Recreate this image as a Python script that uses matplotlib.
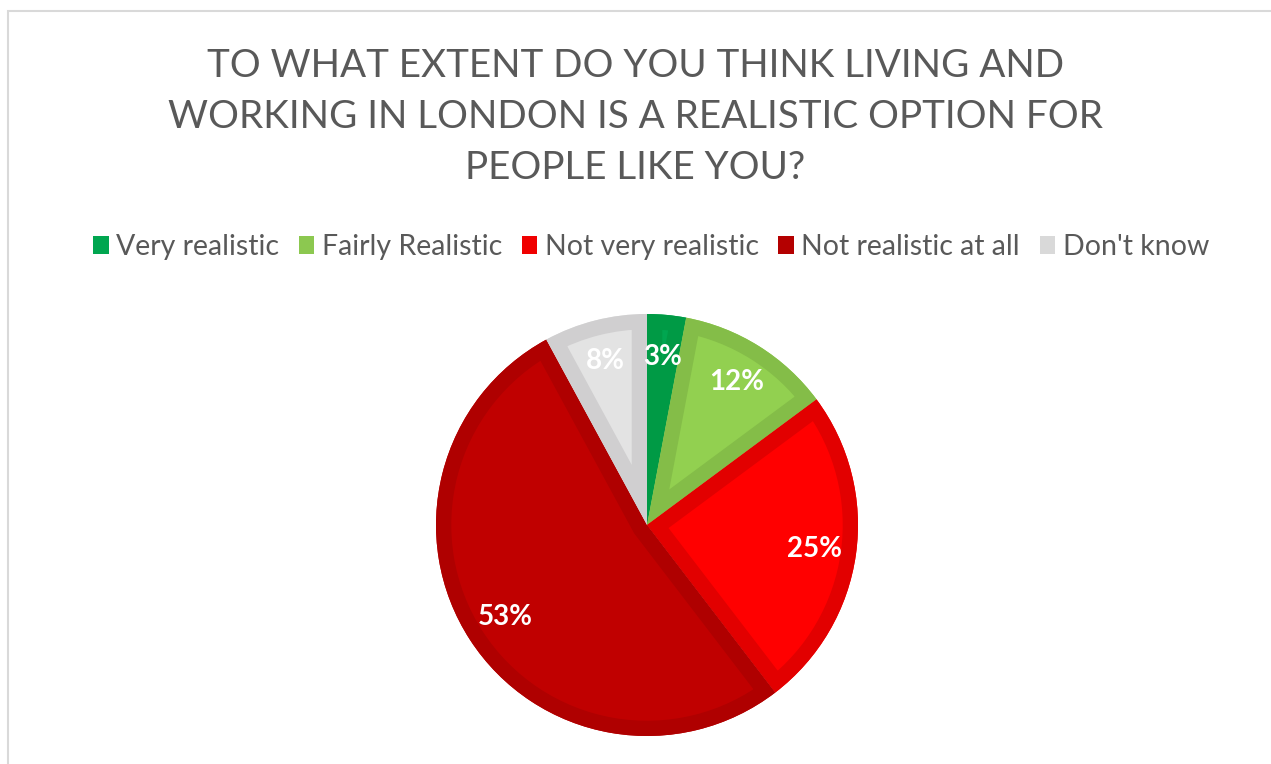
import matplotlib
matplotlib.use("Agg")
import matplotlib.pyplot as plt
import numpy as np
from matplotlib.patches import Rectangle, Patch, Wedge

# Survey responses (percent), clockwise from 12 o'clock
categories = ["Very realistic", "Fairly Realistic", "Not very realistic",
              "Not realistic at all", "Don't know"]
values = [3, 12, 25, 53, 8]

title_lines = ["TO WHAT EXTENT DO YOU THINK LIVING AND",
               "WORKING IN LONDON IS A REALISTIC OPTION FOR",
               "PEOPLE LIKE YOU?"]

fill_colors = ["#00A650", "#92D050", "#FF0000", "#C00000", "#E3E3E3"]
band_colors = ["#009A45", "#84BD48", "#E20000", "#AF0000", "#D0CFD0"]
legend_colors = ["#00A650", "#8CC850", "#F00000", "#B40000", "#D9D9D9"]

TEXT_GRAY = "#595959"
FONT = ["Lato", "DejaVu Sans"]

W, H = 1271, 764
fig = plt.figure(figsize=(W / 100, H / 100), dpi=100)
fig.patch.set_facecolor("white")

# Chart-area frame (only the top and left edges fall inside the canvas)
fig.patches.append(Rectangle((8 / W, -0.1), 1.2, (H - 11) / H + 0.1,
                             transform=fig.transFigure, fill=False,
                             edgecolor="#D9D9D9", lw=1.5))

# Title
for i, line in enumerate(title_lines):
    fig.text(0.5, (H - 66 - 51 * i) / H, line, ha="center", va="center",
             fontsize=27.8, color=TEXT_GRAY, family=FONT)

# Legend
handles = [Patch(facecolor=c, edgecolor="none") for c in legend_colors]
fig.legend(handles, categories, ncol=5, loc="center",
           bbox_to_anchor=(651 / W, (H - 247) / H), frameon=False,
           handlelength=0.55, handleheight=0.55, handletextpad=0.25,
           columnspacing=0.7, prop={"family": FONT, "size": 20.5},
           labelcolor=TEXT_GRAY)

# Pie
cx, cy, r = 647, 525, 211
ax = fig.add_axes([(cx - r) / W, (H - cy - r) / H, 2 * r / W, 2 * r / H])
wedges, _ = ax.pie(values, colors=fill_colors, startangle=90,
                   counterclock=False, radius=1.0,
                   wedgeprops={"linewidth": 0})
ax.set_xlim(-1, 1)
ax.set_ylim(-1, 1)
ax.set_aspect("equal")
ax.axis("off")

# Darker inner band along each slice's edges: a thick outline clipped
# to the slice itself, so only its inner half shows
for w, bc in zip(wedges, band_colors):
    band = Wedge(w.center, w.r, w.theta1, w.theta2, facecolor="none",
                 edgecolor=bc, linewidth=22)
    ax.add_patch(band)
    band.set_clip_on(True)
    band.set_clip_path(w)

# Value labels
total = sum(values)
cum = 0.0
for v in values:
    mid = 90 - (cum + v / 2) / total * 360
    cum += v
    ang = np.deg2rad(mid)
    d = 0.8
    ax.text(d * np.cos(ang), d * np.sin(ang), f"{v}%", ha="center",
            va="center", color="white", fontsize=20, fontweight="bold",
            family=FONT, zorder=5)

fig.savefig("out.png", dpi=100)
